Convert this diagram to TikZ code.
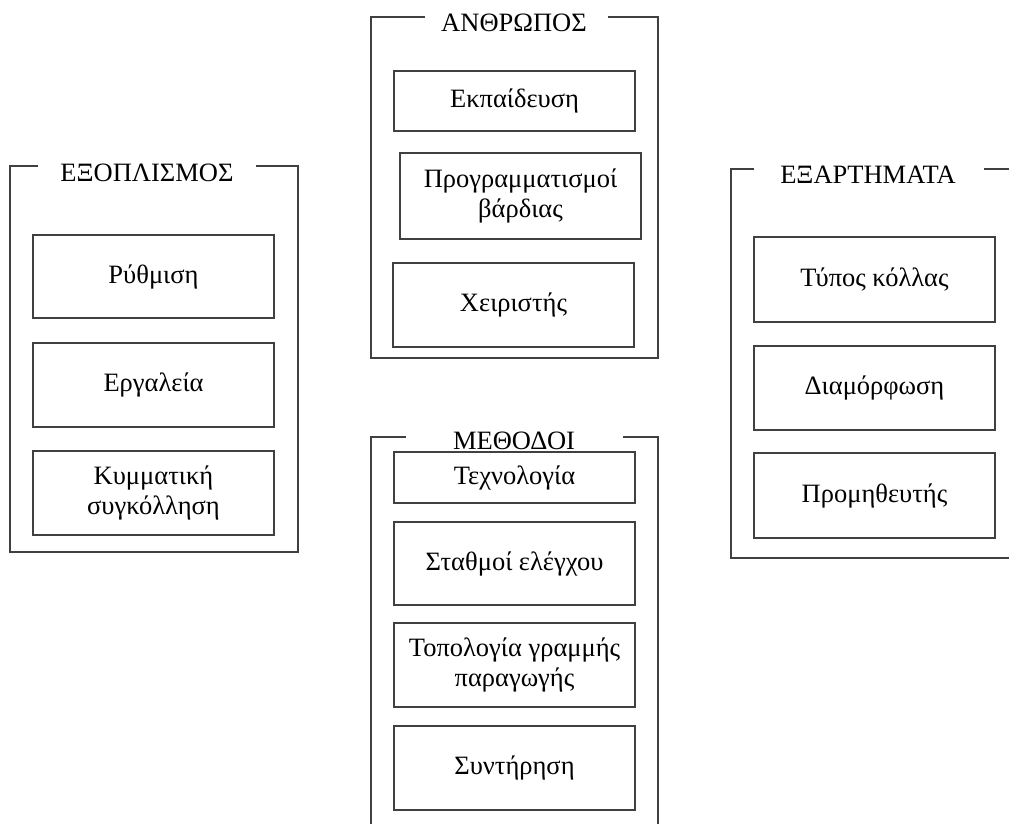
\documentclass[tikz,border=0pt]{standalone}
\usepackage{fontspec}
\setmainfont{Liberation Serif}
\begin{document}
\begin{tikzpicture}[x=1pt,y=-1pt,
  itembox/.style={draw=black!75, line width=1.2pt, minimum width=241pt, inner sep=1pt,
    align=center, font=\fontsize{26.5}{30}\selectfont},
  grouptitle/.style={anchor=base, inner sep=0pt, font=\fontsize{26.5}{30}\selectfont},
  frameline/.style={draw=black!75, line width=1.2pt}]
\useasboundingbox (0,0) rectangle (1009,823);
\clip (0,0) rectangle (1009,823);
\fill[white] (0,0) rectangle (1009,823);

% ---- ΕΞΟΠΛΙΣΜΟΣ ----
\draw[frameline] (38,166) -- (10,166) -- (10,552) -- (298,552) -- (298,166) -- (256,166);
\node[grouptitle] (texop) at (147,181) {ΕΞΟΠΛΙΣΜΟΣ};
\node[itembox, minimum height=83pt] (rythm) at (153.5,276.5) {Ρύθμιση};
\node[itembox, minimum height=84pt] (ergal) at (153.5,385) {Εργαλεία};
\node[itembox, minimum height=84pt] (kymm) at (153.5,493) {Κυμματική\\συγκόλληση};

% ---- ΑΝΘΡΩΠΟΣ ----
\draw[frameline] (425,17) -- (371,17) -- (371,358) -- (658,358) -- (658,17) -- (608,17);
\node[grouptitle] (tanth) at (514,31) {ΑΝΘΡΩΠΟΣ};
\node[itembox, minimum height=60pt] (ekp) at (514.5,101) {Εκπαίδευση};
\node[itembox, minimum height=86pt] (prog) at (520.5,196) {Προγραμματισμοί\\βάρδιας};
\node[itembox, minimum height=84pt] (xeir) at (513.5,305) {Χειριστής};

% ---- ΜΕΘΟΔΟΙ ----
\draw[frameline] (406,437) -- (371,437) -- (371,900) -- (658,900) -- (658,437) -- (623,437);
\node[grouptitle] (tmeth) at (514,449.5) {ΜΕΘΟΔΟΙ};
\node[itembox, minimum height=51pt] (tech) at (514.5,477.5) {Τεχνολογία};
\node[itembox, minimum height=83pt] (stath) at (514.5,563.5) {Σταθμοί ελέγχου};
\node[itembox, minimum height=84pt] (topol) at (514.5,665) {Τοπολογία γραμμής\\παραγωγής};
\node[itembox, minimum height=84pt] (synt) at (514.5,768) {Συντήρηση};

% ---- ΕΞΑΡΤΗΜΑΤΑ ----
\draw[frameline] (754,169) -- (731,169) -- (731,558) -- (1019,558) -- (1019,169) -- (984,169);
\node[grouptitle] (texar) at (868,183) {ΕΞΑΡΤΗΜΑΤΑ};
\node[itembox, minimum height=85pt] (typos) at (874.5,279.5) {Τύπος κόλλας};
\node[itembox, minimum height=84pt] (diam) at (874.5,388) {Διαμόρφωση};
\node[itembox, minimum height=85pt] (prom) at (874.5,495.5) {Προμηθευτής};
\end{tikzpicture}
\end{document}
